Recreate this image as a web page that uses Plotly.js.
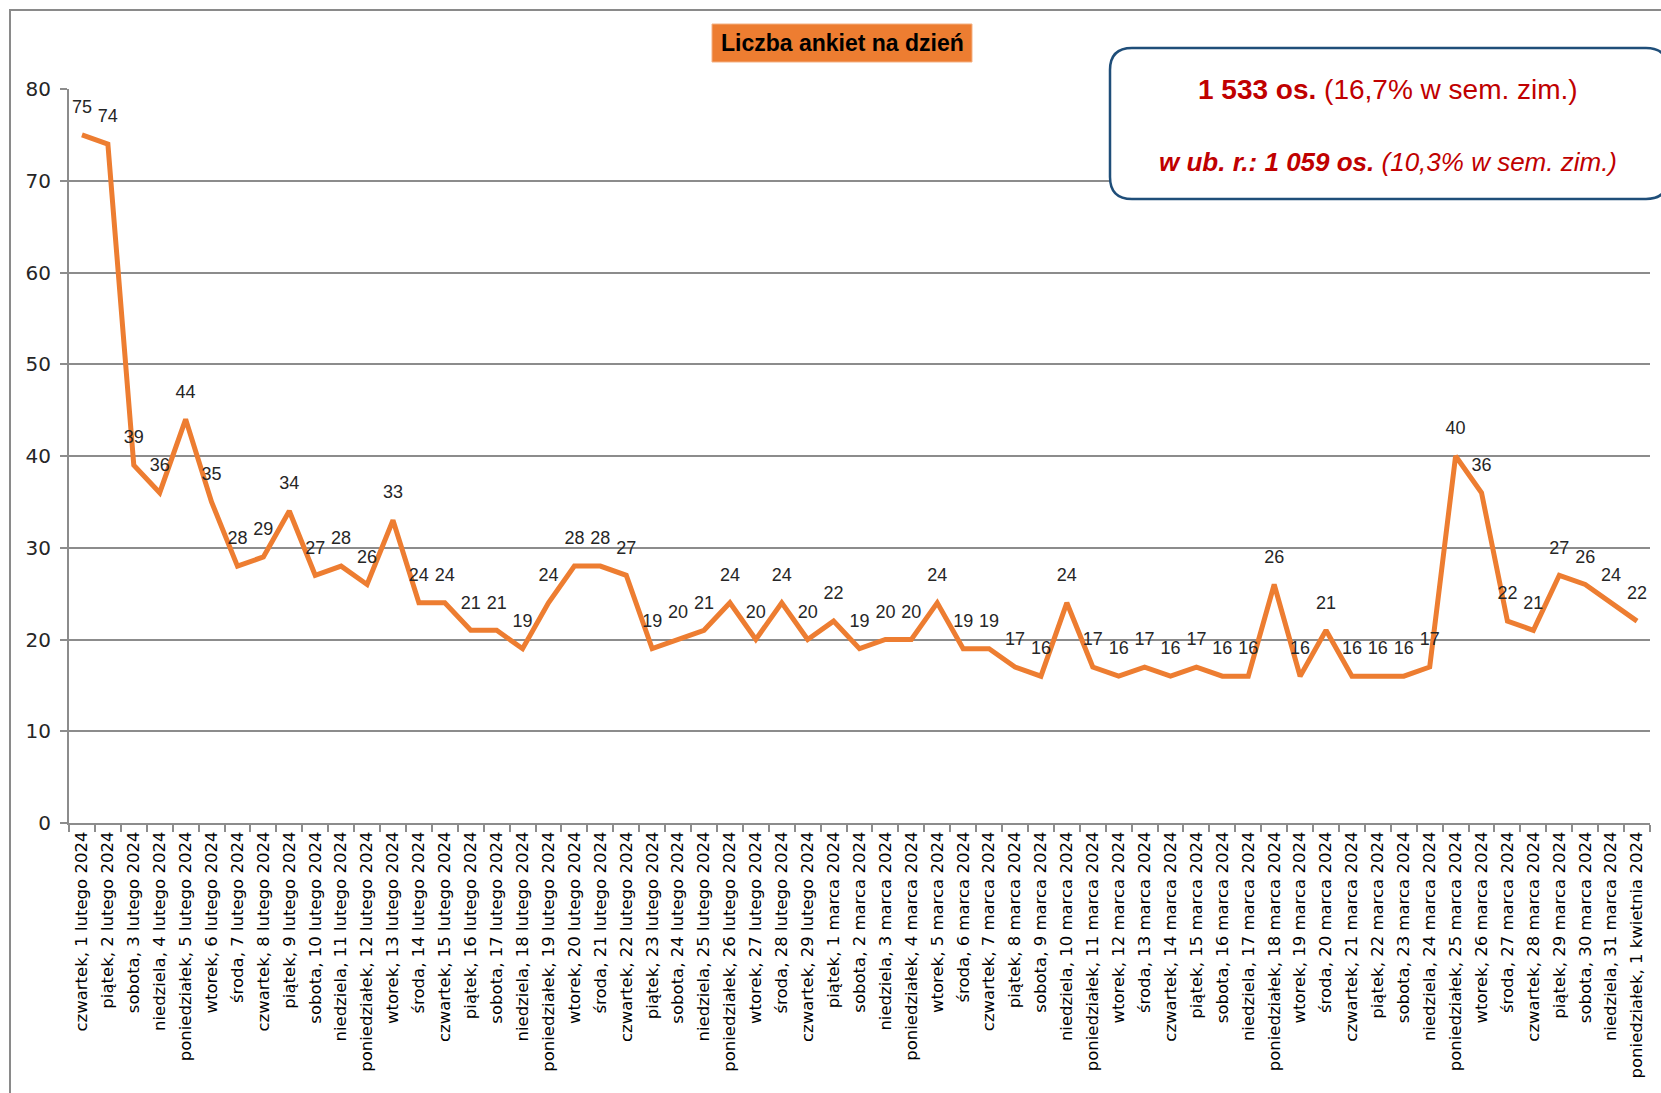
<!DOCTYPE html>
<html>
<head>
<meta charset="utf-8">
<script src="https://cdn.plot.ly/plotly-3.0.1.min.js"></script>
<style>
html,body{margin:0;padding:0;background:#fff;overflow:hidden;}
#chart{width:1661px;height:1093px;}
</style>
</head>
<body>
<div id="chart"></div>
<script>
// ---- data ----
const categories = [
"czwartek, 1 lutego 2024","piątek, 2 lutego 2024","sobota, 3 lutego 2024","niedziela, 4 lutego 2024",
"poniedziałek, 5 lutego 2024","wtorek, 6 lutego 2024","środa, 7 lutego 2024","czwartek, 8 lutego 2024",
"piątek, 9 lutego 2024","sobota, 10 lutego 2024","niedziela, 11 lutego 2024","poniedziałek, 12 lutego 2024",
"wtorek, 13 lutego 2024","środa, 14 lutego 2024","czwartek, 15 lutego 2024","piątek, 16 lutego 2024",
"sobota, 17 lutego 2024","niedziela, 18 lutego 2024","poniedziałek, 19 lutego 2024","wtorek, 20 lutego 2024",
"środa, 21 lutego 2024","czwartek, 22 lutego 2024","piątek, 23 lutego 2024","sobota, 24 lutego 2024",
"niedziela, 25 lutego 2024","poniedziałek, 26 lutego 2024","wtorek, 27 lutego 2024","środa, 28 lutego 2024",
"czwartek, 29 lutego 2024",
"piątek, 1 marca 2024","sobota, 2 marca 2024","niedziela, 3 marca 2024","poniedziałek, 4 marca 2024",
"wtorek, 5 marca 2024","środa, 6 marca 2024","czwartek, 7 marca 2024","piątek, 8 marca 2024",
"sobota, 9 marca 2024","niedziela, 10 marca 2024","poniedziałek, 11 marca 2024","wtorek, 12 marca 2024",
"środa, 13 marca 2024","czwartek, 14 marca 2024","piątek, 15 marca 2024","sobota, 16 marca 2024",
"niedziela, 17 marca 2024","poniedziałek, 18 marca 2024","wtorek, 19 marca 2024","środa, 20 marca 2024",
"czwartek, 21 marca 2024","piątek, 22 marca 2024","sobota, 23 marca 2024","niedziela, 24 marca 2024",
"poniedziałek, 25 marca 2024","wtorek, 26 marca 2024","środa, 27 marca 2024","czwartek, 28 marca 2024",
"piątek, 29 marca 2024","sobota, 30 marca 2024","niedziela, 31 marca 2024","poniedziałek, 1 kwietnia 2024"
];
const surveysPerDay = [
75,74,39,36,44,35,28,29,34,27,28,26,33,24,24,21,21,19,24,28,28,27,19,20,21,24,20,24,20,
22,19,20,20,24,19,19,17,16,24,17,16,17,16,17,16,16,26,16,21,16,16,16,17,40,36,22,21,27,26,24,22
];
const yTicks = [0,10,20,30,40,50,60,70,80];
const chartTitle = "Liczba ankiet na dzień";
const summaryLine1 = "<b>1 533 os.</b> (16,7% w sem. zim.)";
const summaryLine2 = "<b><i>w ub. r.: 1 059 os.</i></b><i> (10,3% w sem. zim.)</i>";

// ---- layout helpers (pixel -> paper) ----
const W = 1661, H = 1093;
const L = 69, R = 1650, T = 89, B = 823;
const pw = R - L, ph = B - T;
const px = x => (x - L) / pw;
const py = y => 1 - (y - T) / ph;

function roundRect(x0, y0, x1, y1, r) {
  const rx = r / pw, ry = r / ph;
  const X0 = px(x0), X1 = px(x1), Yt = py(y0), Yb = py(y1);
  return `M ${X0+rx},${Yt} L ${X1-rx},${Yt} Q ${X1},${Yt} ${X1},${Yt-ry} L ${X1},${Yb+ry} Q ${X1},${Yb} ${X1-rx},${Yb} L ${X0+rx},${Yb} Q ${X0},${Yb} ${X0},${Yb+ry} L ${X0},${Yt-ry} Q ${X0},${Yt} ${X0+rx},${Yt} Z`;
}

const orange = "#ED7D31";
const gridGray = "#8C8C8C";

const trace = {
  x: categories,
  y: surveysPerDay,
  type: "scatter",
  mode: "lines+markers+text",
  line: {color: orange, width: 5},
  marker: {size: 26, color: "rgba(0,0,0,0)", line: {width: 0}},
  text: surveysPerDay.map(String),
  textposition: "top center",
  textfont: {family: "Liberation Sans, Arial, sans-serif", size: 18, color: "#262626"},
  cliponaxis: false,
  hoverinfo: "x+y"
};

const layout = {
  width: W, height: H,
  margin: {l: L, r: W - R, t: T, b: H - B, pad: 0},
  paper_bgcolor: "#ffffff",
  plot_bgcolor: "#ffffff",
  showlegend: false,
  xaxis: {
    type: "category",
    range: [-0.5, categories.length - 0.5],
    showgrid: false,
    showline: true, linecolor: gridGray, linewidth: 2,
    ticks: "outside", tickson: "boundaries", ticklen: 7, tickcolor: gridGray, tickwidth: 2,
    tickangle: -90,
    tickfont: {family: "DejaVu Sans, Verdana, sans-serif", size: 16.5, color: "#000000"},
    automargin: false,
    fixedrange: true
  },
  yaxis: {
    range: [0, 80],
    tickvals: yTicks,
    ticktext: yTicks.map(String),
    showgrid: true, gridcolor: gridGray, gridwidth: 2,
    zeroline: false,
    showline: true, linecolor: gridGray, linewidth: 2,
    ticks: "outside", ticklen: 7, tickcolor: gridGray, tickwidth: 2,
    ticklabelstandoff: 5,
    tickfont: {family: "DejaVu Sans, Verdana, sans-serif", size: 20, color: "#262626"},
    automargin: false,
    fixedrange: true
  },
  shapes: [
    // outer chart border
    {type: "rect", xref: "paper", yref: "paper", layer: "below",
     x0: px(10), x1: px(1700), y0: py(1200), y1: py(10),
     line: {color: "#8a8a8a", width: 2}, fillcolor: "rgba(0,0,0,0)"},
    // title background
    {type: "rect", xref: "paper", yref: "paper",
     x0: px(712), x1: px(972), y0: py(62), y1: py(24),
     line: {color: "#F4B183", width: 1}, fillcolor: orange},
    // summary box
    {type: "path", xref: "paper", yref: "paper",
     path: roundRect(1110, 48, 1668, 199, 22),
     line: {color: "#1F4E79", width: 2.5}, fillcolor: "#ffffff"}
  ],
  annotations: [
    {xref: "paper", yref: "paper", x: px(842), y: py(43), xanchor: "center", yanchor: "middle",
     text: "<b>" + chartTitle + "</b>", showarrow: false,
     font: {family: "Liberation Sans, Arial, sans-serif", size: 23, color: "#000000"}},
    {xref: "paper", yref: "paper", x: px(1388), y: py(89), xanchor: "center", yanchor: "middle",
     text: summaryLine1, showarrow: false,
     font: {family: "Liberation Sans, Arial, sans-serif", size: 28, color: "#C00000"}},
    {xref: "paper", yref: "paper", x: px(1388), y: py(162), xanchor: "center", yanchor: "middle",
     text: summaryLine2, showarrow: false,
     font: {family: "Liberation Sans, Arial, sans-serif", size: 26, color: "#C00000"}}
  ]
};

Plotly.newPlot("chart", [trace], layout, {displayModeBar: false, staticPlot: true});
</script>
</body>
</html>
